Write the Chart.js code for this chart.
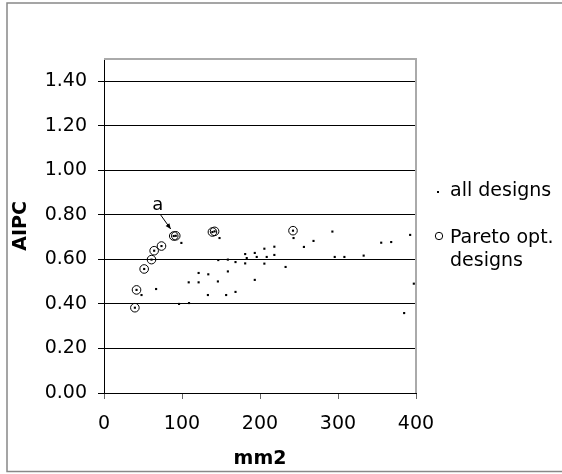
<!DOCTYPE html>
<html>
<head>
<meta charset="utf-8">
<script src="https://cdn.jsdelivr.net/npm/chart.js@4/dist/chart.umd.min.js"></script>
<style>
  body { margin: 0; background: #fff; }
  #wrap { width: 562px; height: 474px; position: relative; }
</style>
</head>
<body>
<div id="wrap"><canvas id="paretoChart"></canvas></div>
<script>
// data (mm2 vs AIPC)
var paretoX = [39.6, 41.7, 51.5, 60.9, 64.3, 73.7, 89.4, 92.0, 139.0, 141.8, 242.3];
var paretoY = [0.383, 0.463, 0.557, 0.599, 0.639, 0.660, 0.705, 0.706, 0.723, 0.726, 0.729];

var otherX = [48.1, 66.8, 99.2, 96.2, 109.0, 108.6, 121.3, 121.3, 133.7, 133.2, 146.0, 146.5,
              148.1, 156.6, 158.8, 158.8, 168.6, 168.6, 181.0, 181.0, 183.0, 193.3, 193.3, 195.8,
              205.6, 205.6, 208.6, 218.4, 218.4, 232.8, 243.0, 256.3, 268.6, 292.8, 295.8, 308.2,
              332.9, 355.4, 368.2, 392.5, 397.2, 384.8];
var otherY = [0.440, 0.467, 0.674, 0.400, 0.404, 0.497, 0.497, 0.539, 0.533, 0.440, 0.501, 0.597,
              0.696, 0.440, 0.599, 0.546, 0.588, 0.454, 0.624, 0.582, 0.606, 0.629, 0.508, 0.611,
              0.648, 0.581, 0.611, 0.657, 0.620, 0.566, 0.696, 0.656, 0.683, 0.725, 0.611, 0.611,
              0.617, 0.675, 0.678, 0.710, 0.491, 0.359];

// all designs = pareto ones + the rest
var allX = paretoX.concat(otherX);
var allY = paretoY.concat(otherY);

var seriesNames = ['all designs', 'Pareto opt. designs'];
var xTickStep = 100;
var yTickStep = 0.2;
var markedPoint = 6; // pareto point labelled "a"

function toPoints(xs, ys) {
    return xs.map(function(x, i) { return { x: x, y: ys[i] }; });
}

var FONT = '"DejaVu Sans", Verdana, sans-serif';

// frame, plot border, legend and the "a" note
var extras = {
    id: 'extras',
    beforeDraw: function(chart) {
        var c = chart.ctx;
        c.save();
        c.fillStyle = '#fff';
        c.fillRect(0, 0, chart.width, chart.height);
        c.strokeStyle = '#888';
        c.lineWidth = 1.5;
        c.strokeRect(7, 3, chart.width + 20, chart.height - 5.5);
        c.restore();
    },
    afterDraw: function(chart) {
        var c = chart.ctx, a = chart.chartArea;
        c.save();
        c.strokeStyle = '#aaa';
        c.lineWidth = 2;
        c.beginPath();
        c.moveTo(a.left, a.top);
        c.lineTo(a.right, a.top);
        c.lineTo(a.right, a.bottom);
        c.stroke();

        // legend
        var lx = a.right + 22;
        c.fillStyle = '#000';
        c.fillRect(lx - 1, 191, 2, 2);
        c.beginPath();
        c.lineWidth = 1;
        c.strokeStyle = '#000';
        c.arc(lx + 1, 236, 3.7, 0, Math.PI * 2);
        c.stroke();
        c.font = '19px ' + FONT;
        c.textBaseline = 'alphabetic';
        c.textAlign = 'left';
        c.fillText(seriesNames[0], lx + 12, 196);
        c.fillText('Pareto opt.', lx + 12, 243);
        c.fillText('designs', lx + 12, 266);

        // "a" with arrow to the marked pareto point
        var px = chart.scales.x.getPixelForValue(paretoX[markedPoint]);
        var py = chart.scales.y.getPixelForValue(paretoY[markedPoint]);
        var x0 = px - 13, y0 = py - 21, x1 = px - 3, y1 = py - 7;
        c.beginPath();
        c.moveTo(x0, y0);
        c.lineTo(x1, y1);
        c.stroke();
        var ang = Math.atan2(y1 - y0, x1 - x0);
        c.beginPath();
        c.moveTo(x1, y1);
        c.lineTo(x1 - 6 * Math.cos(ang - 0.4), y1 - 6 * Math.sin(ang - 0.4));
        c.lineTo(x1 - 6 * Math.cos(ang + 0.4), y1 - 6 * Math.sin(ang + 0.4));
        c.closePath();
        c.fill();
        c.textAlign = 'center';
        c.textBaseline = 'middle';
        c.font = '18px ' + FONT;
        c.fillText('a', px - 16, py - 31);
        c.restore();
    }
};

var ctx = document.getElementById('paretoChart').getContext('2d');
var paretoChart = new Chart(ctx, {
    type: 'scatter',
    data: {
        datasets: [{
            label: seriesNames[0],
            data: toPoints(allX, allY),
            pointStyle: 'rect',
            pointRadius: 1.5,
            backgroundColor: '#000',
            borderWidth: 0
        }, {
            label: seriesNames[1],
            data: toPoints(paretoX, paretoY),
            pointStyle: 'circle',
            pointRadius: 4.3,
            backgroundColor: 'rgba(0,0,0,0)',
            borderColor: '#000',
            borderWidth: 1
        }]
    },
    options: {
        responsive: true,
        maintainAspectRatio: false,
        animation: false,
        events: [],
        layout: { padding: { top: 59, right: 146, left: 0, bottom: 0 } },
        plugins: {
            legend: { display: false },
            tooltip: { enabled: false }
        },
        scales: {
            x: {
                type: 'linear',
                min: 0,
                max: 400,
                ticks: { stepSize: xTickStep, color: '#000', padding: 14, font: { family: FONT, size: 19 } },
                grid: { drawOnChartArea: false, tickLength: 6, color: '#666' },
                border: { color: '#000', width: 1 },
                title: { display: true, text: 'mm2', color: '#000', padding: { top: 0, bottom: 4 },
                         font: { family: FONT, size: 19, weight: 'bold' } },
                afterFit: function(s) { s.height = 81; }
            },
            y: {
                min: 0,
                max: 1.5,
                ticks: {
                    stepSize: yTickStep,
                    color: '#000',
                    padding: 11,
                    font: { family: FONT, size: 19 },
                    callback: function(v) { return v.toFixed(2); }
                },
                afterBuildTicks: function(s) {
                    s.ticks = s.ticks.filter(function(t) { return t.value < 1.45; });
                },
                grid: { color: '#000', tickLength: 6 },
                border: { color: '#000', width: 1 },
                title: { display: true, text: 'AIPC', color: '#000', padding: { top: 10, bottom: 0 },
                         font: { family: FONT, size: 19, weight: 'bold' } },
                afterFit: function(s) { s.width = 104; }
            }
        }
    },
    plugins: [extras]
});
</script>
</body>
</html>
